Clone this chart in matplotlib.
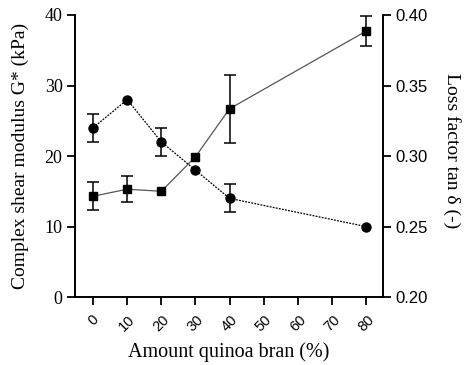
import numpy as np
import matplotlib.pyplot as plt

# data
bran = [0, 10, 20, 30, 40, 80]
g_star = [14.3, 15.3, 15.0, 19.9, 26.7, 37.7]
g_err = [2.0, 1.8, 0, 0, 4.8, 2.1]
tan_delta = [0.32, 0.34, 0.31, 0.29, 0.27, 0.25]
tan_err = [0.01, 0, 0.01, 0, 0.01, 0]
xticks = [0, 10, 20, 30, 40, 50, 60, 70, 80]

serif = 'Liberation Serif'
sans = 'Liberation Sans'

fig = plt.figure(figsize=(4.66, 3.65), dpi=100)
ax = fig.add_axes([0.161, 0.186, 0.661, 0.773])
ax2 = ax.twinx()

# G* squares, solid grey line
ax.plot(bran, g_star, color='#555555', lw=0.9, zorder=2)
ax.errorbar(bran, g_star, yerr=[e if e > 0 else np.nan for e in g_err],
            fmt='s', color='black', ms=6, capsize=4, elinewidth=1.1,
            capthick=1.1, zorder=3)

# tan delta circles, dotted line
ax2.plot(bran, tan_delta, color='black', lw=0.9, ls=(0, (1.5, 1)), zorder=2)
ax2.errorbar(bran, tan_delta, yerr=[e if e > 0 else np.nan for e in tan_err],
             fmt='o', color='black', ms=6.5, capsize=4, elinewidth=1.1,
             capthick=1.1, zorder=3)

ax.set_xlim(-5.3, 85)
ax.set_ylim(0, 40)
ax2.set_ylim(0.20, 0.40)
ax.set_yticks([0, 10, 20, 30, 40])
ax2.set_yticks([0.20, 0.25, 0.30, 0.35, 0.40])
ax2.set_yticklabels(['0.20', '0.25', '0.30', '0.35', '0.40'], fontfamily=sans, fontsize=12)
ax.set_xticks(xticks)
ax.set_xticklabels([str(t) for t in xticks], rotation=45, ha='center',
                   fontfamily=sans, fontsize=10.5)
for lab in ax.get_yticklabels():
    lab.set_fontfamily(serif)
    lab.set_fontsize(13)

for a in (ax, ax2):
    a.spines['top'].set_visible(False)
    a.tick_params(direction='out', length=6, width=1.3, pad=3)
    for s in a.spines.values():
        s.set_linewidth(1.4)
ax.spines['right'].set_visible(False)
ax2.spines['left'].set_visible(False)
ax2.spines['bottom'].set_visible(False)
ax.tick_params(axis='x', pad=5)

ax.set_xlabel('Amount quinoa bran (%)', fontfamily=serif, fontsize=14.5)
ax.xaxis.set_label_coords(0.5, -0.16)
ax.set_ylabel('Complex shear modulus G* (kPa)', fontfamily=serif, fontsize=14)
ax.yaxis.set_label_coords(-0.148, 0.5)
ax2.set_ylabel('Loss factor tan δ (-)', fontfamily=serif, fontsize=14,
               rotation=270, va='center')
ax2.yaxis.set_label_coords(1.224, 0.518)

fig.savefig('out.png', dpi=100)
